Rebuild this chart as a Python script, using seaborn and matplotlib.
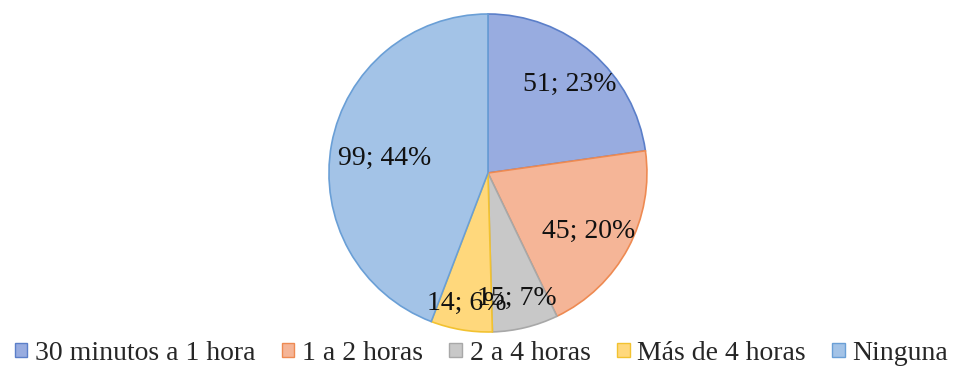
import matplotlib
matplotlib.use("Agg")
import matplotlib.pyplot as plt
import seaborn as sns
import numpy as np
from matplotlib.patches import Patch

sns.set_theme(style="white")
plt.rcParams['font.family'] = ['Liberation Serif', 'DejaVu Serif']

categories = ["30 minutos a 1 hora", "1 a 2 horas", "2 a 4 horas", "Más de 4 horas", "Ninguna"]
counts = [51, 45, 15, 14, 99]
percent_labels = [23, 20, 7, 6, 44]

face_colors = ["#98ACE0", "#F5B597", "#C8C8C8", "#FFD87C", "#A3C3E7"]
edge_colors = ["#5B7FC9", "#EE8A52", "#A8A8A8", "#F2C230", "#6A9FD6"]

fig = plt.figure(figsize=(9.63, 3.74), dpi=100)
ax = fig.add_axes([0.3416, 0.1123, 0.3302, 0.8503])

wedges, _ = ax.pie(counts, startangle=90, counterclock=False,
                   colors=face_colors, radius=1.0,
                   wedgeprops=dict(linewidth=1.2))
for w, ec in zip(wedges, edge_colors):
    w.set_edgecolor(ec)

# radial position of each value label, as a fraction of the radius
label_dist = [0.78, 0.72, 0.78, 0.80, 0.66]
for w, n, p, d in zip(wedges, counts, percent_labels, label_dist):
    mid = np.deg2rad((w.theta1 + w.theta2) / 2)
    ax.text(d * np.cos(mid), d * np.sin(mid) - 0.03, f"{n}; {p}%",
            ha="center", va="center", fontsize=20, color="#111111")

ax.set_xlim(-1.0, 1.0)
ax.set_ylim(-1.0, 1.0)
ax.set_aspect("equal")
ax.axis("off")

handles = [Patch(facecolor=fc, edgecolor=ec, linewidth=1.0)
           for fc, ec in zip(face_colors, edge_colors)]
fig.legend(handles, categories, loc="center", bbox_to_anchor=(0.5, 0.055),
           ncol=5, frameon=False, fontsize=20, handlelength=0.45,
           handleheight=0.45, handletextpad=0.28, columnspacing=0.95,
           borderaxespad=0)

fig.savefig("out.png", dpi=100)
